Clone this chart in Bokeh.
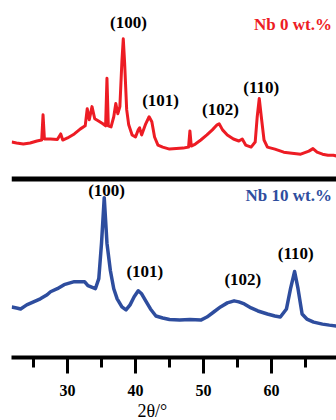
from bokeh.plotting import figure
from bokeh.models import Range1d, Span, Title, SingleIntervalTicker, ColumnDataSource
from bokeh.core.properties import value
from bokeh.embed import file_html
from bokeh.resources import INLINE

# 2theta (deg) and intensity (a.u., stacked) for Nb 0 wt.% (red)
red_x = [21.8, 22.5, 23.5, 24.5, 25.5, 26.2, 26.4, 26.6, 27.5, 28.5, 29.0, 29.3, 30.0, 31.0, 31.9,
         32.6, 32.9, 33.2, 33.6, 34.0, 34.5, 35.2, 35.6, 35.8, 36.0, 36.4, 36.8, 37.1, 37.4, 37.7,
         38.0, 38.2, 38.4, 38.7, 39.0, 39.5, 40.0, 40.4, 40.6, 40.9, 41.5, 42.0, 42.4, 42.8, 43.3,
         44.0, 45.0, 46.0, 47.0, 47.8, 48.0, 48.2, 48.8, 49.6, 50.5, 51.3, 52.0, 52.3, 52.8, 53.5,
         54.4, 55.2, 55.7, 56.2, 57.0, 57.6, 57.9, 58.2, 58.5, 58.9, 59.4, 60.5, 61.8, 63.0, 64.3,
         65.5, 66.1, 66.7, 67.5, 68.3, 69.1, 69.7]
red_y = [213, 212, 211, 212, 214, 215, 240, 216, 216, 215.5, 221, 215, 217, 221, 226,
         229, 246, 235, 248, 236, 234, 231, 229, 276, 229, 228, 238, 251, 241, 248,
         293, 315, 291, 245, 230, 220, 218, 225, 227, 220, 231, 238, 233, 218, 210,
         208, 206, 206.5, 207, 208, 224, 209, 211, 215, 220, 225, 230, 231, 225, 220,
         216, 214, 216, 210, 208, 213, 238, 256, 238, 215, 208, 206, 203, 202, 201,
         204, 206.5, 203, 201, 200, 200, 199]

# 2theta (deg) and intensity (a.u.) for Nb 10 wt.% (blue)
blue_x = [21.8, 22.5, 23.1, 24.0, 25.0, 26.0, 27.0, 27.5, 28.5, 29.5, 30.0, 31.0, 32.0, 32.5,
          33.0, 34.1, 34.6, 35.0, 35.4, 35.8, 36.3, 36.8, 37.3, 38.0, 38.6, 39.2, 39.8, 40.4,
          40.9, 41.5, 42.2, 43.0, 44.0, 45.0, 46.5, 48.0, 49.6, 50.5, 51.5, 52.5, 53.5, 54.5,
          55.2, 56.0, 57.0, 58.0, 59.4, 60.5, 61.3, 62.2, 62.8, 63.4, 63.9, 64.5, 65.2, 66.2,
          67.5, 68.5, 69.7]
blue_y = [50, 49, 48, 52, 55, 58, 62, 65, 68, 72, 73, 75, 75, 75,
          71, 68, 78, 113, 158, 113, 86, 68, 58, 50, 47, 52, 60, 66,
          63, 56, 48, 41, 39, 37.5, 37, 37.5, 37, 40, 45, 50, 54, 56,
          55, 53, 49, 46, 43, 41, 40, 48, 68, 85, 68, 43, 38, 35,
          33, 32, 31]

# peak labels
red_lab_x = [38.97, 43.68, 52.5, 58.5]
red_lab_y = [331, 254, 245, 267]
blue_lab_x = [35.74, 41.37, 55.78, 63.57]
blue_lab_y = [165, 85, 77, 103]
peak_labels = ["(100)", "(101)", "(102)", "(110)"]
series_names = ["Nb 0 wt.%", "Nb 10 wt.%"]
series_name_x = [68.9, 68.9]
series_name_y = [329, 160]
separator_y = 176.5
x_label = "2θ/°"

RED = "#ED1C24"
BLUE = "#2E4D9E"
SERIF = "Liberation Serif"

p = figure(width=336, height=420, output_backend="svg", toolbar_location=None,
           x_range=Range1d(21.76, 69.56), y_range=Range1d(0, 345),
           y_axis_location=None, min_border_left=11, min_border_right=0,
           min_border_top=8, min_border_bottom=10)
p.outline_line_color = None
p.xgrid.visible = False
p.ygrid.visible = False
p.background_fill_color = "white"
p.border_fill_color = "white"

p.line(red_x, red_y, line_color=RED, line_width=3, line_join="round")
p.line(blue_x, blue_y, line_color=BLUE, line_width=3.5, line_join="round")

p.add_layout(Span(location=separator_y, dimension="width", line_color="black", line_width=5))

lab_src = ColumnDataSource(dict(x=red_lab_x + blue_lab_x, y=red_lab_y + blue_lab_y,
                                t=peak_labels + peak_labels))
p.text(x="x", y="y", text="t", source=lab_src, text_font=value(SERIF), text_font_style="bold",
       text_font_size="17px", text_color="black", text_align="center", text_baseline="middle")

name_src = ColumnDataSource(dict(x=series_name_x, y=series_name_y, t=series_names,
                                 c=[RED, BLUE]))
p.text(x="x", y="y", text="t", source=name_src, text_font=value(SERIF), text_font_style="bold",
       text_font_size="17px", text_color="c", text_align="right", text_baseline="middle")

ax = p.xaxis[0]
ax.ticker = SingleIntervalTicker(interval=10, num_minor_ticks=2)
ax.axis_line_width = 4
ax.axis_line_color = "black"
ax.major_tick_line_width = 3
ax.minor_tick_line_width = 3
ax.major_tick_in = 0
ax.minor_tick_in = 0
ax.major_tick_out = 16
ax.minor_tick_out = 10
ax.major_label_standoff = 11
ax.major_label_text_font = SERIF
ax.major_label_text_font_style = "bold"
ax.major_label_text_font_size = "16px"
ax.major_label_text_color = "black"

p.add_layout(Title(text=x_label, align="left", offset=126, standoff=0,
                   text_font=SERIF, text_font_size="18px", text_font_style="normal",
                   text_color="black"), "below")

open("out.html", "w").write(file_html(p, INLINE))
